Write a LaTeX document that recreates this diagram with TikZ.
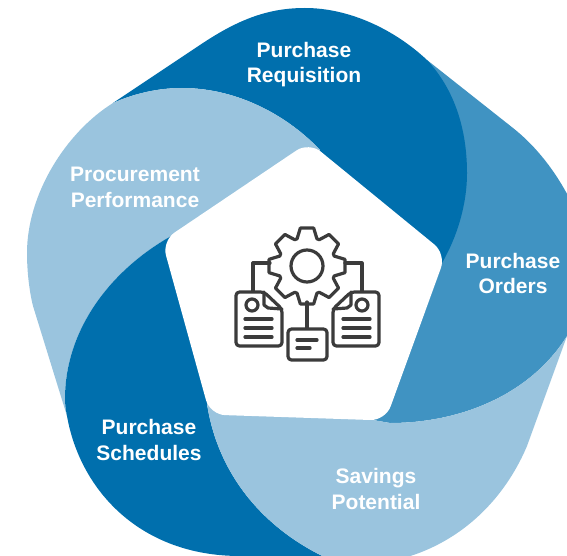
\documentclass[tikz,border=0pt]{standalone}
\usepackage{fontspec}
\setmainfont{Liberation Sans}
\definecolor{darkband}{RGB}{0,111,173}
\definecolor{midband}{RGB}{64,147,194}
\definecolor{lightband}{RGB}{154,196,222}
\definecolor{icongray}{RGB}{59,59,59}
\tikzset{
  bandlabel/.style={align=center,text=white,font=\fontsize{21}{25.5}\selectfont\bfseries},
  iconline/.style={draw=icongray,line width=3.2pt,line join=round,line cap=round},
  pagepart/.style={iconline,fill=white,rounded corners=3.5pt}
}
\begin{document}
\begin{tikzpicture}[x=1pt,y=-1pt]
\useasboundingbox (0,0) rectangle (567,556);
\clip (0,0) rectangle (567,556);
\coordinate (mid) at (307,280);
\fill [midband] (427,60) -- (513,128) .. controls (560,165) and (590,230) .. (590,270) .. controls (590,300) and (580,315) .. (567,336) .. controls (530,395) and (460,423) .. (390,423) -- (373,420) -- (mid) -- (442,263) -- cycle;
\fill [darkband] (113,103) -- (200,45) .. controls (240,18) and (270,8) .. (305,8) .. controls (350,8) and (395,30) .. (427,60) .. controls (455,90) and (467,130) .. (467,173) .. controls (467,205) and (457,237) .. (442,263) -- (mid) -- (320,150) .. controls (290,118) and (240,88) .. (182,88) .. controls (157,88) and (133,94) .. (113,103) -- cycle;
\fill [lightband] (113,103) .. controls (65,133) and (27,195) .. (27,253) .. controls (27,270) and (29,290) .. (33,306) -- (67,416) .. controls (66,411) and (65,405) .. (65,399) .. controls (65,330) and (110,270) .. (173,235) -- (mid) -- (320,150) .. controls (290,118) and (240,88) .. (182,88) .. controls (157,88) and (133,94) .. (113,103) -- cycle;
\fill [darkband] (173,235) .. controls (110,270) and (65,330) .. (65,399) .. controls (65,405) and (66,411) .. (67,416) .. controls (80,490) and (140,556) .. (240,556) .. controls (270,556) and (300,562) .. (345,566) .. controls (265,535) and (218,475) .. (207,404) -- (mid) -- cycle;
\fill [lightband] (207,404) .. controls (218,475) and (265,535) .. (345,566) .. controls (440,566) and (500,510) .. (527,446) -- (567,336) .. controls (530,395) and (460,423) .. (390,423) -- (373,420) -- (mid) -- cycle;
\fill [white,rounded corners=15pt] (309,142) -- (446,254) -- (385.5,420.5) -- (210,414.6) -- (162,241) -- cycle;
\node [bandlabel] (requisition) at (304,64.5) {Purchase\\Requisition};
\node [bandlabel] (orders) at (513,273.5) {Purchase\\Orders};
\node [bandlabel] (savings) at (376,489) {Savings\\Potential};
\node [bandlabel] (schedules) at (149,440) {Purchase\\Schedules};
\node [bandlabel] (performance) at (135,187.5) {Procurement\\Performance};
\coordinate (gearleft) at (270,263);
\coordinate (gearright) at (345,263);
\coordinate (gearbottom) at (307,302);
\coordinate (leftpage) at (253,292);
\coordinate (rightpage) at (362,292);
\coordinate (lowpage) at (307,329);
\draw [iconline] (gearleft) -| (leftpage);
\draw [iconline] (gearright) -| (rightpage);
\draw [iconline] (gearbottom) -- (lowpage);
\begin{scope}[shift={(307,266)}]
\draw [iconline] (-20:29) \foreach \a in {0,45,...,315} {-- ({\a-20}:29) -- ({\a-10}:38.5) -- ({\a+10}:38.5) -- ({\a+20}:29)} -- cycle;
\draw [iconline] (0,0) circle (16);
\end{scope}
\draw [pagepart] (236,292) -- (264,292) -- (282,309) -- (282,346) -- (236,346) -- cycle;
\draw [iconline] (264,292) -- (264,305) -- (268,308) -- (282,309);
\draw [iconline] (252,305) circle (6);
\foreach \y in {319,328,337} \draw [iconline] (245,\y) -- (272,\y);
\draw [pagepart] (379,292) -- (351,292) -- (333,309) -- (333,346) -- (379,346) -- cycle;
\draw [iconline] (351,292) -- (351,305) -- (347,308) -- (333,309);
\draw [iconline] (362,305) circle (6);
\foreach \y in {319,328,337} \draw [iconline] (343,\y) -- (370,\y);
\draw [pagepart] (288,329) rectangle (327,360);
\draw [iconline] (297,340) -- (317,340);
\draw [iconline] (297,348) -- (310,348);
\end{tikzpicture}
\end{document}
